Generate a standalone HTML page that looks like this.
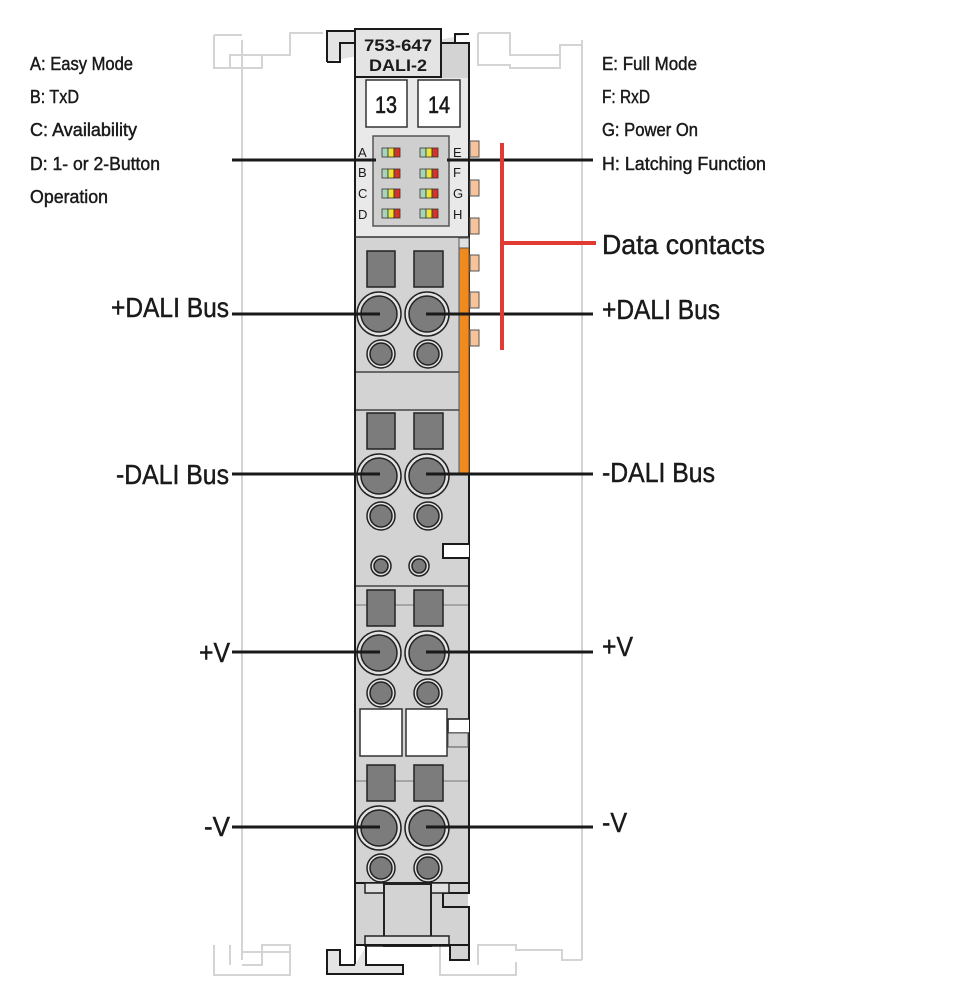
<!DOCTYPE html>
<html><head><meta charset="utf-8"><style>
html,body{margin:0;padding:0;background:#fff;}
svg{display:block;}
text{font-family:"Liberation Sans",sans-serif;fill:#1a1a1a;}
.lab text{stroke:#1a1a1a;stroke-width:0.45;}
</style></head><body>
<svg width="970" height="1004" viewBox="0 0 970 1004" xmlns="http://www.w3.org/2000/svg">
<g fill="none" stroke="#d4d4d4" stroke-width="2">
<path d="M242 40 V960"/><path d="M582 40 V960"/>
<path d="M214 35 H242 M214 35 V68 H230 V55 H290 V33 H323 M290 33 V40"/>
<path d="M230 68 H242 M262 55 H290 M262 55 V68 H242"/>
<path d="M478 33 H510 V55 H560 V45 H582 M478 33 V65 H510 V68 H560 V55"/>
<path d="M214 945 V975 H290 V952 H242 M230 965 V945 M242 965 H262 V945 H290 V952"/>
<path d="M440 945 V975 H516 V962 M478 965 V945 H516 V950 H562 V960 H582"/>
</g>
<rect x="355" y="43" width="114" height="840" fill="#d3d3d3" stroke="#1a1a1a" stroke-width="2"/>
<rect x="356" y="78" width="112" height="159" fill="#e9e9e9"/>
<path d="M355 237 H469" stroke="#333" stroke-width="1.5"/>
<path d="M327 62 V31 H441 V43 H455 V34 H469" fill="#e4e4e4" stroke="#1a1a1a" stroke-width="2"/>
<path d="M327 62 H340 V43 H355" fill="none" stroke="#1a1a1a" stroke-width="2"/>
<rect x="355" y="29" width="86" height="48" fill="#e4e4e4" stroke="#1a1a1a" stroke-width="2"/>
<text x="398" y="51" font-size="17" font-weight="bold" text-anchor="middle" textLength="68" lengthAdjust="spacingAndGlyphs">753-647</text>
<text x="398" y="71" font-size="17" font-weight="bold" text-anchor="middle" textLength="58" lengthAdjust="spacingAndGlyphs">DALI-2</text>
<rect x="366" y="80" width="41" height="47" fill="#fff" stroke="#333" stroke-width="1.5"/>
<rect x="418" y="80" width="42" height="47" fill="#fff" stroke="#333" stroke-width="1.5"/>
<text x="386" y="113" font-size="24" text-anchor="middle" textLength="22" lengthAdjust="spacingAndGlyphs" stroke="#1a1a1a" stroke-width="0.6">13</text>
<text x="439" y="113" font-size="24" text-anchor="middle" textLength="22" lengthAdjust="spacingAndGlyphs" stroke="#1a1a1a" stroke-width="0.6">14</text>
<rect x="373" y="136" width="76" height="90" fill="#cfcfcf" stroke="#555" stroke-width="1.5"/>
<g font-size="13" fill="#333">
<text x="358" y="157">A</text><text x="358" y="177">B</text><text x="358" y="198">C</text><text x="358" y="219">D</text>
<text x="453" y="157">E</text><text x="453" y="177">F</text><text x="453" y="198">G</text><text x="453" y="219">H</text>
</g>
<g stroke="#333" stroke-width="0.8">
<g id="led"><rect x="382" y="148" width="6" height="9" fill="#a8d5b5"/><rect x="388" y="148" width="6" height="9" fill="#f1e23a"/><rect x="394" y="148" width="6" height="9" fill="#d2342a"/></g>
<use href="#led" y="21"/><use href="#led" y="41"/><use href="#led" y="61"/>
<use href="#led" x="38"/><use href="#led" x="38" y="21"/><use href="#led" x="38" y="41"/><use href="#led" x="38" y="61"/>
</g>
<g fill="#f6c39a" stroke="#555" stroke-width="1">
<rect x="470" y="141" width="9" height="16"/><rect x="470" y="180" width="9" height="16"/><rect x="470" y="218" width="9" height="16"/>
<rect x="470" y="255" width="9" height="16"/><rect x="470" y="292" width="9" height="16"/><rect x="470" y="330" width="9" height="16"/>
</g>
<rect x="459" y="248" width="10" height="225" fill="#f08a1e" stroke="#555" stroke-width="1"/>
<rect x="459" y="238" width="10" height="10" fill="#e0e0e0" stroke="#555" stroke-width="1"/>
<g stroke="#444" stroke-width="1.5">
<path d="M356 372 H459 M356 410 H459 M356 586 H468"/>
</g>
<g stroke="#777" stroke-width="1"><path d="M356 605 H468 M356 781 H468"/></g>
<path d="M469 544 H443 V558 H469" fill="#fff" stroke="#1a1a1a" stroke-width="2"/>
<path d="M469 719 H448 V733 H469" fill="#fff" stroke="#1a1a1a" stroke-width="1.5"/>
<rect x="448" y="733" width="20" height="14" fill="#d3d3d3" stroke="#555" stroke-width="1"/>
<rect x="360" y="709" width="42" height="47" fill="#fff" stroke="#333" stroke-width="1.5"/>
<rect x="406" y="709" width="41" height="47" fill="#fff" stroke="#333" stroke-width="1.5"/>
<g id="term" stroke="#222" stroke-width="1.5">
<rect x="367" y="251" width="28" height="36" fill="#7c7c7c"/><rect x="414" y="251" width="29" height="36" fill="#7c7c7c"/>
<circle cx="379" cy="314" r="22" fill="#e2e2e2"/><circle cx="379" cy="314" r="18" fill="#7c7c7c"/>
<circle cx="427" cy="314" r="22" fill="#e2e2e2"/><circle cx="427" cy="314" r="18" fill="#7c7c7c"/>
<circle cx="381" cy="354" r="14" fill="#e2e2e2"/><circle cx="381" cy="354" r="11" fill="#7c7c7c"/>
<circle cx="428" cy="354" r="14" fill="#e2e2e2"/><circle cx="428" cy="354" r="11" fill="#7c7c7c"/>
</g>
<use href="#term" y="162"/><use href="#term" y="339"/><use href="#term" y="514"/>
<g stroke="#222" stroke-width="1.5">
<circle cx="381" cy="566" r="10" fill="#e2e2e2"/><circle cx="381" cy="566" r="7" fill="#7c7c7c"/>
<circle cx="419" cy="566" r="10" fill="#e2e2e2"/><circle cx="419" cy="566" r="7" fill="#7c7c7c"/>
</g>
<rect x="356" y="884" width="112" height="62" fill="#d3d3d3"/>
<path d="M469 883 V893 H443 V907 H469 V960 H450 V946" fill="#d3d3d3" stroke="#1a1a1a" stroke-width="2"/>
<rect x="365" y="883" width="84" height="10" fill="#e0e0e0" stroke="#222" stroke-width="1.5"/>
<rect x="384" y="884" width="47" height="62" fill="#d3d3d3" stroke="#222" stroke-width="2"/>
<rect x="365" y="936" width="84" height="10" fill="#e0e0e0" stroke="#222" stroke-width="1.5"/>
<path d="M355 883 V965 M355 945 H469" stroke="#1a1a1a" stroke-width="2"/>
<path d="M355 965 H340 V950 H327 V974 H403 V965 H366 V946" fill="#e4e4e4" stroke="#1a1a1a" stroke-width="2"/>
<g stroke="#1a1a1a" stroke-width="3">
<path d="M232 160 H376 M447 160 H593"/>
<path d="M232 314 H380 M426 314 H593"/>
<path d="M232 474 H380 M426 474 H593"/>
<path d="M232 652 H380 M426 652 H593"/>
<path d="M232 827 H380 M426 827 H593"/>
</g>
<path d="M502 143 V350 M502 243 H596" stroke="#e03a32" stroke-width="4" fill="none"/>
<g class="lab">
<g font-size="18">
<text x="30" y="70" textLength="103" lengthAdjust="spacingAndGlyphs">A: Easy Mode</text>
<text x="30" y="103" textLength="49" lengthAdjust="spacingAndGlyphs">B: TxD</text>
<text x="30" y="136" textLength="107" lengthAdjust="spacingAndGlyphs">C: Availability</text>
<text x="30" y="170" textLength="130" lengthAdjust="spacingAndGlyphs">D: 1- or 2-Button</text>
<text x="30" y="203" textLength="78" lengthAdjust="spacingAndGlyphs">Operation</text>
<text x="602" y="70" textLength="95" lengthAdjust="spacingAndGlyphs">E: Full Mode</text>
<text x="602" y="103" textLength="48" lengthAdjust="spacingAndGlyphs">F: RxD</text>
<text x="602" y="136" textLength="96" lengthAdjust="spacingAndGlyphs">G: Power On</text>
<text x="602" y="170" textLength="164" lengthAdjust="spacingAndGlyphs">H: Latching Function</text>
</g>
<g font-size="28" style="stroke-width:0.7">
<text x="602" y="254" textLength="163" lengthAdjust="spacingAndGlyphs">Data contacts</text>
<text x="111" y="317" textLength="118" lengthAdjust="spacingAndGlyphs">+DALI Bus</text>
<text x="602" y="319" textLength="118" lengthAdjust="spacingAndGlyphs">+DALI Bus</text>
<text x="116" y="484" textLength="113" lengthAdjust="spacingAndGlyphs">-DALI Bus</text>
<text x="602" y="482" textLength="113" lengthAdjust="spacingAndGlyphs">-DALI Bus</text>
<text x="199" y="662" textLength="31" lengthAdjust="spacingAndGlyphs">+V</text>
<text x="602" y="656" textLength="31" lengthAdjust="spacingAndGlyphs">+V</text>
<text x="204" y="836" textLength="26" lengthAdjust="spacingAndGlyphs">-V</text>
<text x="602" y="832" textLength="25" lengthAdjust="spacingAndGlyphs">-V</text>
</g>
</g>
</svg>
</body></html>
